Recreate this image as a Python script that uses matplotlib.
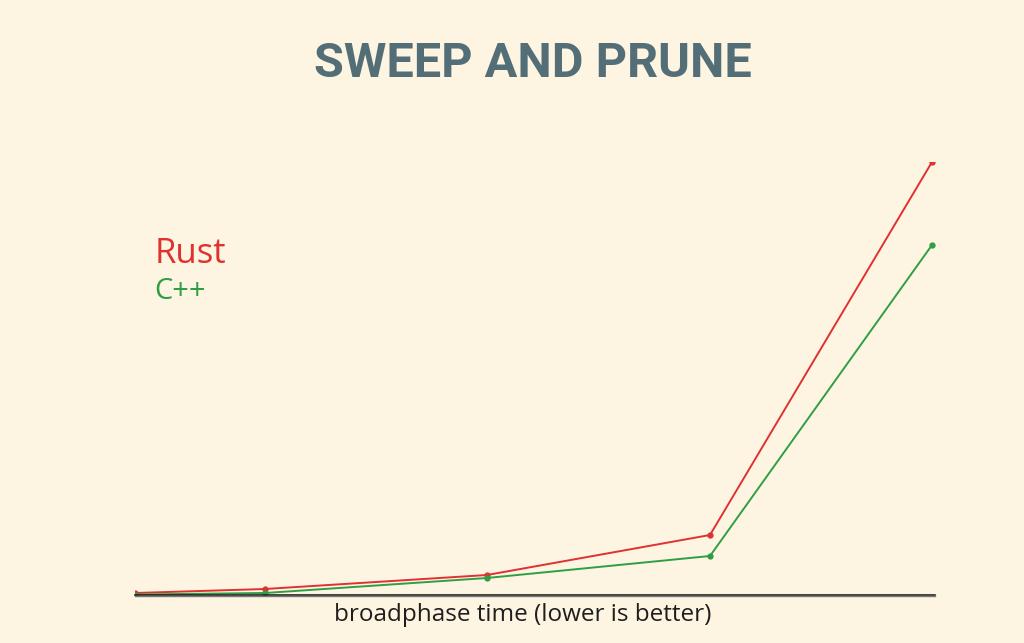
import matplotlib
matplotlib.use("Agg")
import matplotlib.pyplot as plt
import numpy as np

# data (arbitrary units)
run_x = [0, 130, 352, 575, 797]
rust = [2, 6, 20, 60, 433]
cpp = [0.5, 2, 17, 39, 350]

bg = '#fdf5e2'
red = '#e03131'
green = '#2f9e44'

fig = plt.figure(figsize=(10.24, 6.43), dpi=100, facecolor=bg)
ax = fig.add_axes([135 / 1024, 48 / 643, 800 / 1024, (595 - 162) / 643])
ax.set_facecolor(bg)

ax.plot(run_x, rust, color=red, lw=1.4, marker='o', ms=3.5, solid_joinstyle='round')
ax.plot(run_x, cpp, color=green, lw=1.4, marker='o', ms=3.5, solid_joinstyle='round')

ax.set_xlim(0, 800)
ax.set_ylim(0, 433)
ax.axhline(0, color='#222222', lw=1.2, clip_on=False)
ax.axhline(-0.9, color='#777777', lw=1.0, clip_on=False)
for s in ax.spines.values():
	s.set_visible(False)
ax.set_xticks([])
ax.set_yticks([])

ax.set_xlabel('broadphase time (lower is better)', fontsize=17.5, family='Open Sans',
	color='#1e1e1e')
ax.xaxis.set_label_coords(0.485, -0.018)
ax.xaxis.label.set_va('top')

fig.text(0.151, 0.605, 'Rust', color=red, fontsize=25, family='Open Sans', va='center')
fig.text(0.151, 0.546, 'C++', color=green, fontsize=21, family='Open Sans', va='center')

# condensed display face isn't available, Roboto bold is the closest fit
fig.text(0.52, 0.9, 'SWEEP AND PRUNE', ha='center', va='center', color='#546e78',
	fontsize=35, family='Roboto', fontweight='bold')

fig.savefig('out.png', dpi=100, facecolor=bg)
